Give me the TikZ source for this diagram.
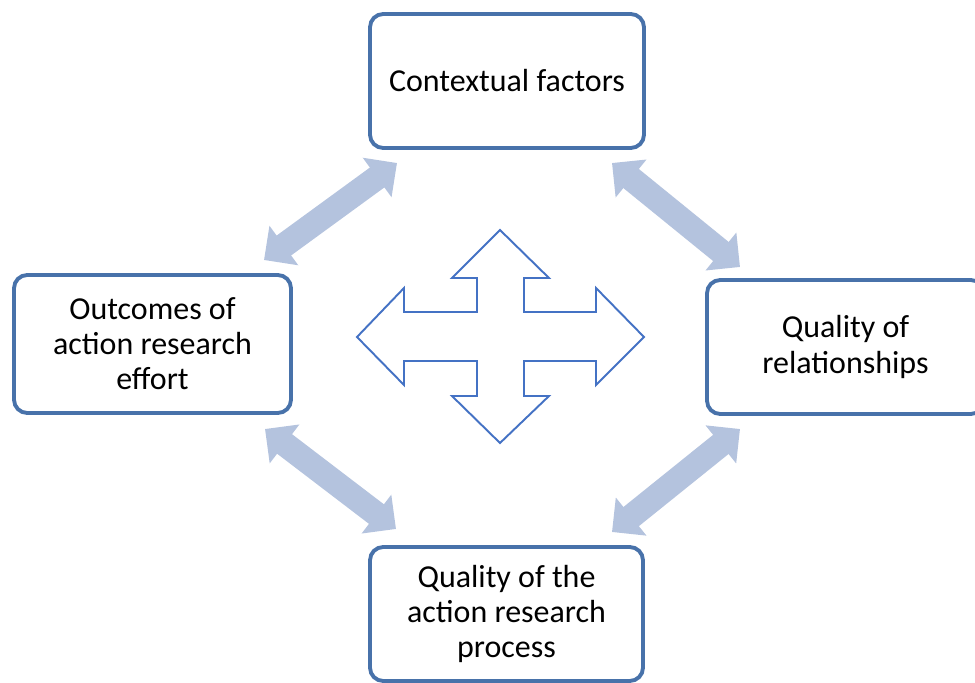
\documentclass[tikz,border=0pt]{standalone}
\usepackage{fontspec}
\setmainfont{Carlito}
\usepackage{xcolor}
\usetikzlibrary{arrows.meta,positioning,calc}
\definecolor{boxblue}{RGB}{72,114,170}
\definecolor{arrowblue}{RGB}{180,195,222}
\definecolor{crossblue}{RGB}{68,114,196}

\begin{document}
\begin{tikzpicture}[x=0.02cm,y=-0.02cm]

        \tikzstyle{every node}=[font=\fontsize{18.2}{20}\selectfont, align=center]
        \tikzstyle{factor}=[draw=boxblue, line width=2.2pt, rounded corners=7.5pt, fill=white, inner sep=0pt]
        \tikzstyle{link}=[draw=arrowblue, line width=14pt, {Triangle[width=27pt,length=14pt]}-{Triangle[width=27pt,length=14pt]}]

        \useasboundingbox (0,0) rectangle (975,683);

        \node[factor, minimum width=5.48cm, minimum height=2.68cm] (C) at (507,81) {Contextual factors};
        \node[factor, minimum width=5.54cm, minimum height=2.76cm] (O) at (152.5,344) {Outcomes of\\action research\\effort};
        \node[factor, minimum width=5.54cm, minimum height=2.68cm] (R) at (845.5,347) {Quality of\\relationships};
        \node[factor, minimum width=5.46cm, minimum height=2.68cm] (P) at (506.5,614) {Quality of the\\action research\\process};

        \coordinate (C1) at (397,163);
        \coordinate (C2) at (612,163);
        \coordinate (O1) at (264,260);
        \coordinate (O2) at (265,429);
        \coordinate (R1) at (740,267);
        \coordinate (R2) at (740,429);
        \coordinate (P1) at (396,529);
        \coordinate (P2) at (612,532);

        \draw[link] (C1) -- (O1);
        \draw[link] (C2) -- (R1);
        \draw[link] (O2) -- (P1);
        \draw[link] (R2) -- (P2);

        % four-way arrow in the middle
        \draw[crossblue, line width=1.1pt, line join=miter]
          (500,230) -- (549,278) -- (524,278) -- (524,312) -- (596,312) -- (596,288)
          -- (644,337) -- (596,385) -- (596,361) -- (524,361) -- (524,396) -- (549,396)
          -- (500,443) -- (452,396) -- (477,396) -- (477,361) -- (404,361) -- (404,385)
          -- (357,337) -- (404,288) -- (404,312) -- (477,312) -- (477,278) -- (452,278) -- cycle;

      \end{tikzpicture}
\end{document}
